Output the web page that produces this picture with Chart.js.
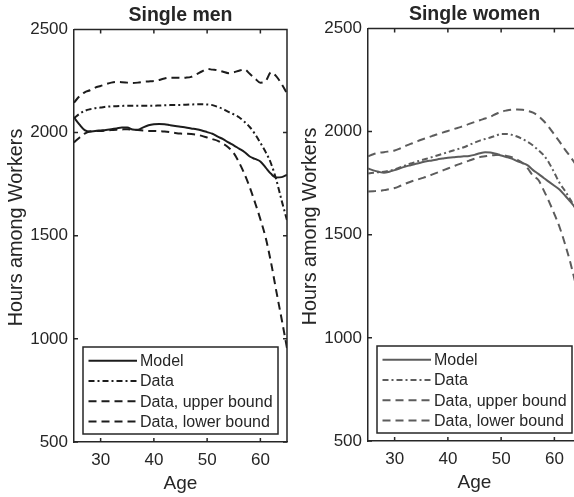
<!DOCTYPE html>
<html lang="en">
<head>
<meta charset="UTF-8">
<title>Hours among Workers</title>
<script src="https://cdn.jsdelivr.net/npm/chart.js"></script>
<style>
  html, body {
    margin: 0;
    padding: 0;
    background: #fff;
    width: 574px;
    height: 497px;
    overflow: hidden;
  }
  .panel {
    position: absolute;
    top: 0;
    width: 300px;
    height: 497px;
  }
  #men { left: 0; }
  #women { left: 294px; top: -1px; }
</style>
</head>
<body>
<div class="panel" id="men"><canvas id="chartMen" width="300" height="497"></canvas></div>
<div class="panel" id="women"><canvas id="chartWomen" width="300" height="497"></canvas></div>
<script>
const ages = [25, 26, 27, 28, 29, 30, 31, 32, 33, 34, 35, 36, 37, 38, 39, 40, 41, 42, 43, 44,
              45, 46, 47, 48, 49, 50, 51, 52, 53, 54, 55, 56, 57, 58, 59, 60, 61, 62, 63, 64, 65];
const xTicks = [30, 40, 50, 60];
const yTicks = [500, 1000, 1500, 2000, 2500];
const seriesLabels = ['Model', 'Data', 'Data, upper bound', 'Data, lower bound'];

// single men
const menModel = [2073, 2040, 2012, 2005, 2008, 2010, 2012, 2016, 2020, 2024, 2024, 2015, 2013, 2025, 2035, 2040, 2042, 2040, 2036, 2032,
                  2028, 2025, 2020, 2016, 2010, 2002, 1994, 1980, 1968, 1952, 1938, 1922, 1906, 1884, 1872, 1860, 1830, 1800, 1782, 1784, 1795];
const menData = [2070, 2090, 2105, 2113, 2118, 2121, 2125, 2127, 2128, 2129, 2130, 2130, 2130, 2130, 2130, 2130, 2131, 2132, 2133, 2134,
                 2134, 2135, 2136, 2137, 2137, 2136, 2133, 2124, 2114, 2100, 2088, 2074, 2052, 2027, 1992, 1950, 1905, 1850, 1770, 1670, 1575];
const menUpper = [2145, 2175, 2195, 2205, 2218, 2226, 2235, 2242, 2245, 2244, 2242, 2240, 2242, 2246, 2248, 2250, 2255, 2262, 2266, 2266,
                  2265, 2266, 2270, 2282, 2296, 2308, 2305, 2302, 2295, 2288, 2292, 2300, 2306, 2285, 2262, 2242, 2250, 2292, 2272, 2235, 2190];
const menLower = [1952, 1975, 1995, 2005, 2007, 2008, 2010, 2012, 2014, 2015, 2016, 2014, 2012, 2010, 2008, 2008, 2007, 2005, 2002, 1998,
                  1995, 1994, 1993, 1990, 1984, 1976, 1968, 1960, 1946, 1928, 1900, 1855, 1800, 1735, 1660, 1580, 1490, 1370, 1230, 1095, 955];

// single women
const womenModel = [1821, 1812, 1805, 1800, 1805, 1813, 1822, 1830, 1837, 1844, 1850, 1856, 1860, 1865, 1869, 1873, 1875, 1878, 1880, 1882,
                    1887, 1895, 1900, 1898, 1892, 1884, 1877, 1869, 1857, 1848, 1836, 1813, 1795, 1775, 1756, 1737, 1718, 1690, 1660, 1630, 1600];
const womenData = [1797, 1800, 1803, 1805, 1810, 1816, 1826, 1836, 1845, 1853, 1861, 1868, 1876, 1884, 1892, 1900, 1908, 1916, 1924, 1935,
                   1946, 1956, 1964, 1971, 1980, 1988, 1988, 1984, 1976, 1964, 1950, 1932, 1910, 1885, 1848, 1800, 1750, 1712, 1670, 1625, 1580];
const womenUpper = [1880, 1890, 1897, 1900, 1904, 1908, 1918, 1930, 1940, 1950, 1960, 1969, 1978, 1987, 1995, 2003, 2011, 2019, 2027, 2037,
                    2046, 2055, 2063, 2072, 2085, 2096, 2102, 2106, 2107, 2106, 2100, 2092, 2075, 2051, 2020, 1985, 1950, 1912, 1878, 1840, 1790];
const womenLower = [1710, 1711, 1712, 1716, 1721, 1726, 1736, 1747, 1757, 1765, 1773, 1781, 1791, 1801, 1811, 1821, 1831, 1841, 1850, 1859,
                    1868, 1876, 1880, 1884, 1886, 1887, 1882, 1876, 1864, 1848, 1821, 1785, 1765, 1715, 1660, 1600, 1535, 1455, 1365, 1260, 1150];

const ink = '#262626';
const family = "'Liberation Sans', Arial, sans-serif";
const dashes = [[], [6, 3, 2, 3], [8, 5], [8, 5]];

// MATLAB-style box with inward ticks, plus the boxed legend
const matlabBox = {
  id: 'matlabBox',
  afterDraw(chart) {
    const { ctx, chartArea: a, scales: { x, y } } = chart;
    ctx.save();
    ctx.strokeStyle = ink;
    ctx.lineWidth = 1.5;
    ctx.setLineDash([]);
    ctx.beginPath();
    ctx.moveTo(a.left, a.top);
    ctx.lineTo(a.right, a.top);
    ctx.lineTo(a.right, a.bottom);
    x.ticks.forEach(t => {
      const px = x.getPixelForValue(t.value);
      ctx.moveTo(px, a.bottom); ctx.lineTo(px, a.bottom - 4);
      ctx.moveTo(px, a.top); ctx.lineTo(px, a.top + 4);
    });
    y.ticks.forEach(t => {
      const py = y.getPixelForValue(t.value);
      ctx.moveTo(a.left, py); ctx.lineTo(a.left + 4, py);
      ctx.moveTo(a.right, py); ctx.lineTo(a.right - 4, py);
    });
    ctx.stroke();

    // legend
    const lx = a.left + 9, ly = a.bottom - 95, lw = 195, lh = 87;
    ctx.fillStyle = '#fff';
    ctx.fillRect(lx, ly, lw, lh);
    ctx.strokeRect(lx, ly, lw, lh);
    ctx.font = '16px ' + family;
    ctx.textBaseline = 'middle';
    chart.data.datasets.forEach((ds, i) => {
      const ry = a.bottom - 81.3 + i * 20.3;
      ctx.strokeStyle = ds.borderColor;
      ctx.lineWidth = ds.borderWidth;
      ctx.setLineDash(ds.borderDash);
      ctx.beginPath();
      ctx.moveTo(lx + 5.5, ry);
      ctx.lineTo(lx + 54, ry);
      ctx.stroke();
      ctx.fillStyle = ink;
      ctx.fillText(ds.label, lx + 57, ry + 1);
    });
    ctx.restore();
  }
};

function makeChart(id, title, series, color) {
  return new Chart(document.getElementById(id), {
    type: 'line',
    data: {
      datasets: seriesLabels.map((label, i) => ({
        label: label,
        data: ages.map((a, j) => ({ x: a, y: series[i][j] })),
        borderColor: color,
        borderWidth: 2,
        borderDash: dashes[i],
        pointRadius: 0,
        cubicInterpolationMode: 'monotone',
        fill: false
      }))
    },
    options: {
      responsive: false,
      animation: false,
      layout: { padding: { left: 0, right: 13, top: 0, bottom: 0 } },
      plugins: {
        legend: { display: false },
        tooltip: { enabled: false },
        title: {
          display: true,
          text: title,
          fullSize: false,
          color: ink,
          font: { family: family, size: 19.5, weight: 'bold' },
          padding: { top: 4, bottom: 2 }
        }
      },
      scales: {
        x: {
          type: 'linear',
          min: 25,
          max: 65,
          afterBuildTicks: s => { s.ticks = xTicks.map(v => ({ value: v })); },
          afterFit: s => { s.height = 55; },
          grid: { display: false, drawTicks: false },
          border: { display: true, color: ink, width: 1.5 },
          ticks: { color: ink, font: { family: family, size: 17 }, padding: 8, maxRotation: 0 },
          title: { display: true, text: 'Age', color: ink, font: { family: family, size: 19 }, padding: { top: 0, bottom: 2 } }
        },
        y: {
          type: 'linear',
          min: 500,
          max: 2500,
          afterBuildTicks: s => { s.ticks = yTicks.map(v => ({ value: v })); },
          afterFit: s => { s.width = 74; },
          grid: { display: false, drawTicks: false },
          border: { display: true, color: ink, width: 1.5 },
          ticks: { color: ink, font: { family: family, size: 17 }, padding: 6, callback: v => String(v) },
          title: { display: true, text: '\u00a0\u00a0\u00a0Hours among Workers', color: ink, font: { family: family, size: 19.8 }, padding: { top: 5, bottom: 0 } }
        }
      }
    },
    plugins: [matlabBox]
  });
}

makeChart('chartMen', 'Single men', [menModel, menData, menUpper, menLower], '#1c1c1c');
makeChart('chartWomen', 'Single women', [womenModel, womenData, womenUpper, womenLower], '#5c5c5c');
</script>
</body>
</html>
